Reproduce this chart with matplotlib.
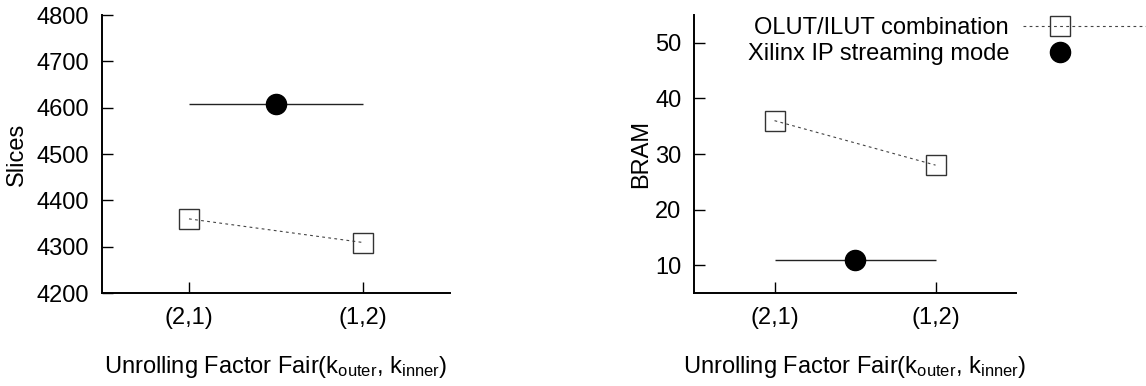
import matplotlib
matplotlib.use("Agg")
import matplotlib.pyplot as plt
from matplotlib.legend_handler import HandlerLine2D

plt.rcParams['font.family'] = ['Liberation Sans', 'DejaVu Sans']
plt.rcParams['mathtext.default'] = 'regular'

categories = ["(2,1)", "(1,2)"]
slices_lut = [4360, 4309]
slices_ip = 4607
bram_lut = [36, 28]
bram_ip = 11

FS = 17


class ShiftedMarker(HandlerLine2D):
    # gnuplot style key: marker sits left of the sample line's middle
    def create_artists(self, legend, orig_handle, xdescent, ydescent,
                       width, height, fontsize, trans):
        arts = super().create_artists(legend, orig_handle, xdescent, ydescent,
                                      width, height, fontsize, trans)
        line = arts[0]
        xd = line.get_xdata()
        line.set_xdata([xd[0], xd[0] + 0.3 * (xd[-1] - xd[0]), xd[-1]])
        return arts


def style_axes(ax, ylim, yticks, ylabel, ylabel_x):
    ax.set_xlim(0.5, 2.5)
    ax.set_ylim(*ylim)
    ax.set_yticks(yticks)
    ax.set_xticks([1, 2])
    ax.set_xticklabels(categories)
    for s in ["top", "right"]:
        ax.spines[s].set_visible(False)
    for s in ["left", "bottom"]:
        ax.spines[s].set_linewidth(1.4)
    ax.tick_params(direction="in", length=8, width=1.0, labelsize=FS)
    ax.tick_params(axis="x", pad=10)
    ax.tick_params(axis="y", pad=9)
    ax.set_ylabel(ylabel, fontsize=FS)
    ax.yaxis.set_label_coords(ylabel_x, 0.5)
    ax.set_xlabel(r"Unrolling Factor Fair(k$_{outer}$, k$_{inner}$)",
                  fontsize=FS, labelpad=18)


def draw(ax, lut, ip):
    x = [1, 2]
    l1, = ax.plot(x, lut, linestyle=(0, (2.5, 3)), lw=0.8, color="#444444",
                  marker="s", ms=15, mfc="none", mec="#333333", mew=1.0,
                  label="OLUT/ILUT combination")
    ax.hlines(ip, 1, 2, color="#222222", lw=1.0)
    l2, = ax.plot([1.5], [ip], linestyle="none", marker="o", ms=14.5,
                  color="black", label="Xilinx IP streaming mode")
    return l1, l2


fig = plt.figure(figsize=(11.46, 3.86), dpi=100)
ax1 = fig.add_axes([0.089, 0.2409, 0.3037, 0.7202])
ax2 = fig.add_axes([0.6056, 0.2409, 0.281, 0.7202])

draw(ax1, slices_lut, slices_ip)
style_axes(ax1, (4200, 4800), range(4200, 4801, 100), "Slices", -0.213)

h1, h2 = draw(ax2, bram_lut, bram_ip)
style_axes(ax2, (5, 55), range(10, 51, 10), "BRAM", -0.130)

ax2.legend(handles=[h1, h2], loc="upper right", bbox_to_anchor=(1.0, 0.955),
           bbox_transform=fig.transFigure, frameon=False, markerfirst=False,
           fontsize=FS, handlelength=5.2, handletextpad=0.6, labelspacing=0.15,
           borderaxespad=0, borderpad=0, numpoints=1,
           handler_map={h1: ShiftedMarker(), h2: ShiftedMarker()})

fig.savefig("out.png", dpi=100)
